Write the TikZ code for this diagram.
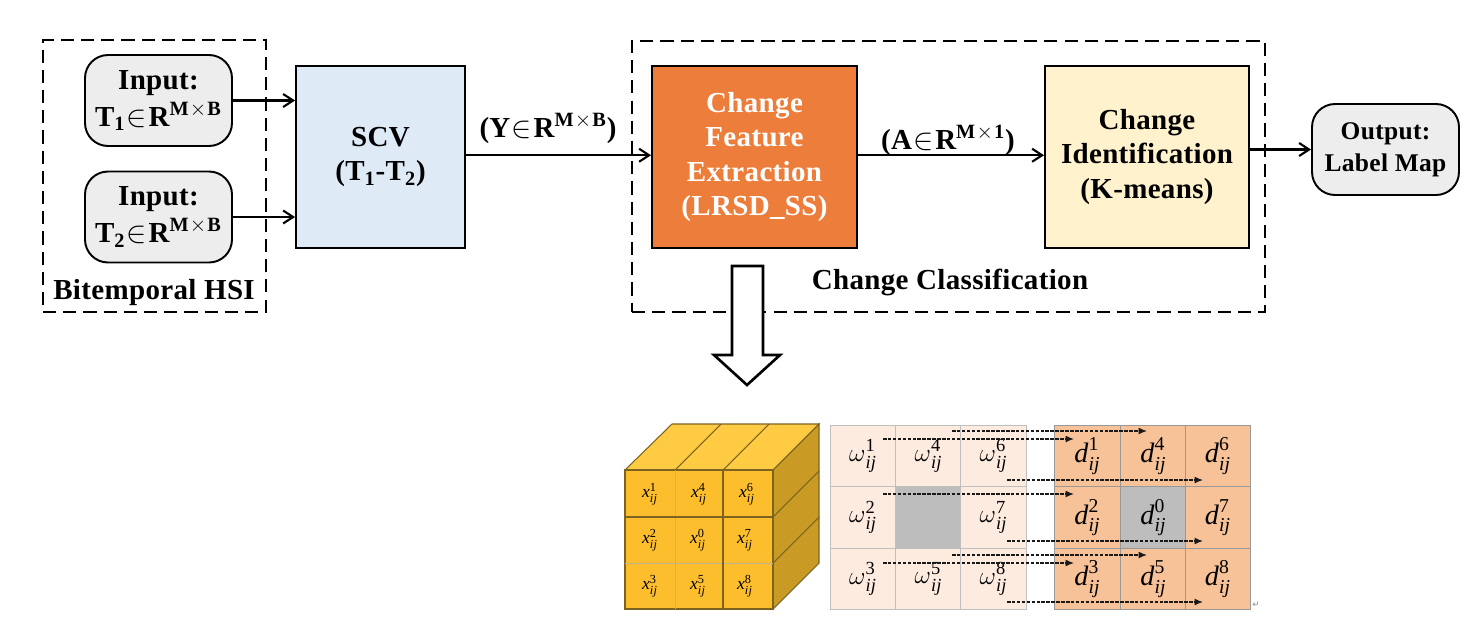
\documentclass[tikz,border=0pt]{standalone}
\usepackage{amsmath, amssymb}
\usepackage{fontspec}
\setmainfont[LetterSpace=1.2]{Liberation Serif}
\newfontfamily\arrowfont{DejaVu Sans}
\usepackage{tikz}
\usetikzlibrary{positioning,arrows.meta}
\definecolor{boxgray}{HTML}{EDEDED}
\definecolor{scvblue}{HTML}{DEEAF6}
\definecolor{cfeorange}{HTML}{ED7D3A}
\definecolor{cicream}{HTML}{FFF2CC}
\definecolor{cubefront}{HTML}{FCBE2C}
\definecolor{cubetop}{HTML}{FFCB42}
\definecolor{cubeside}{HTML}{C99B25}
\definecolor{cubeedge}{HTML}{7D6320}
\definecolor{omegacell}{HTML}{FDEBDF}
\definecolor{dcell}{HTML}{F8C298}
\definecolor{centercell}{HTML}{BDBDBD}
\newcommand{\cellvar}[2]{$\text{\itshape #1}^{\text{\upshape #2}}_{\text{\itshape ij}}$}
\newcommand{\setR}[1]{\kern0.05em$\in$\kern0.05em R\textsuperscript{M$\mkern1mu\times\mkern1mu$#1}}
\tikzset{
  flowarrow/.style={-{Straight Barb[length=2mm,width=2.6mm]}, line width=1.2pt},
  dasharrow/.style={-{Latex[length=1.7mm,width=1.4mm]}, line width=0.7pt, dash pattern=on 2pt off 0.8pt, draw=black!90},
  groupbox/.style={draw, line width=1.1pt, dash pattern=on 7.5pt off 4pt},
  inbox/.style={draw, rounded corners=0.46cm, line width=1.1pt, fill=boxgray, minimum width=2.94cm, minimum height=1.82cm, align=center, inner sep=0pt},
  stepbox/.style={draw, line width=1.1pt, minimum height=3.64cm, align=center, inner sep=0pt},
  boldlabel/.style={font=\fontsize{16.5}{19.5}\selectfont\bfseries, inner sep=0pt},
  inputlabel/.style={font=\fontsize{16.5}{21}\selectfont\bfseries},
  cubecell/.style={font=\fontsize{10}{12}\selectfont, inner sep=0pt},
  omegabox/.style={draw=black!25, fill=omegacell, minimum width=1.31cm, minimum height=1.23cm, inner sep=0pt, font=\fontsize{15}{17}\selectfont},
  dbox/.style={draw=black!40, fill=dcell, minimum width=1.31cm, minimum height=1.23cm, inner sep=0pt, font=\fontsize{16}{18}\selectfont}
}
\begin{document}
\begin{tikzpicture}[x=0.02cm, y=-0.02cm, >=Latex, every node/.style={boldlabel}]
      \useasboundingbox (0,0) rectangle (1478,640);
      % top row
      \node[groupbox, minimum width=4.46cm, minimum height=5.44cm] (bitemporal) at (154.5,176) {};
      \node[groupbox, minimum width=12.66cm, minimum height=5.42cm] (classbox) at (948.5,176.5) {};
      \node[inbox, inputlabel] (inputa) at (158.5,100.5) {Input:\\T\textsubscript{1}\setR{B}};
      \node[inbox, inputlabel] (inputb) at (158.5,217) {Input:\\T\textsubscript{2}\setR{B}};
      \node[stepbox, fill=scvblue, minimum width=3.38cm] (scv) at (380.5,157) {SCV\\(T\textsubscript{1}-T\textsubscript{2})};
      \node[stepbox, fill=cfeorange, text=white, minimum width=4.1cm] (cfe) at (754.5,157) {Change\\Feature\\Extraction\\(LRSD\_SS)};
      \node[stepbox, fill=cicream, minimum width=4.08cm] (ci) at (1147,157) {Change\\Identification\\(K-means)};
      \node[inbox, font=\fontsize{14.5}{18}\selectfont\bfseries] (output) at (1385.5,149.5) {Output:\\Label Map};
      \node (bitemporallabel) at (154,293) {Bitemporal HSI};
      \node (classlabel) at (950,282) {Change Classification};
      \node (ylabel) at (548,128) {(Y\setR{B})};
      \node (alabel) at (948,140) {(A\setR{1})};
      \draw[flowarrow] (inputa.east) -- (inputa.east -| scv.west);
      \draw[flowarrow] (inputb.east) -- (inputb.east -| scv.west);
      \draw[flowarrow] ([yshift=1pt]scv.east) -- ([yshift=1pt]cfe.west);
      \draw[flowarrow] ([yshift=1pt]cfe.east) -- ([yshift=1pt]ci.west);
      \draw[flowarrow] (ci.east |- output.west) -- (output.west);
      % hollow arrow
      \draw[line width=1.5pt, fill=white] (732,266) -- (763,266) -- (763,355) -- (780,355) -- (747,385) -- (714,355) -- (732,355) -- cycle;
      % cube
      \draw[cubeedge, line width=0.6pt, fill=cubetop] (625,470) -- (672,424) -- (819,424) -- (773,470) -- cycle;
      \draw[cubeedge, line width=0.6pt, fill=cubeside] (773,470) -- (819,424) -- (819,563) -- (773,609) -- cycle;
      \draw[cubeedge, line width=0.9pt, fill=cubefront] (625,470) rectangle (773,609);
      \draw[cubeedge!50, line width=0.5pt] (675,470) -- (675,609);
      \draw[cubeedge!50, line width=0.5pt] (625,563) -- (773,563);
      \draw[cubeedge, line width=0.9pt] (723,470) -- (723,609);
      \draw[cubeedge, line width=0.9pt] (625,517) -- (773,517);
      \draw[cubeedge, line width=0.6pt] (675,470) -- (721,424);
      \draw[cubeedge, line width=0.6pt] (723,470) -- (769,424);
      \draw[cubeedge, line width=0.6pt] (773,517) -- (819,471);
      \draw[cubeedge, line width=0.6pt] (773,563) -- (819,517);
      \node[cubecell] (x1) at (650,494) {\cellvar{x}{1}};
      \node[cubecell] (x4) at (699,494) {\cellvar{x}{4}};
      \node[cubecell] (x6) at (747,494) {\cellvar{x}{6}};
      \node[cubecell] (x2) at (650,540) {\cellvar{x}{2}};
      \node[cubecell] (x0) at (698,540) {\cellvar{x}{0}};
      \node[cubecell] (x7) at (745,540) {\cellvar{x}{7}};
      \node[cubecell] (x3) at (650,586) {\cellvar{x}{3}};
      \node[cubecell] (x5) at (698,586) {\cellvar{x}{5}};
      \node[cubecell] (x8) at (745,586) {\cellvar{x}{8}};
      % weight table
      \node[omegabox] (w1) at (863,456) {\cellvar{$\omega$}{1}};
      \node[omegabox] (w4) at (928.5,456) {\cellvar{$\omega$}{4}};
      \node[omegabox] (w6) at (993.5,456) {\cellvar{$\omega$}{6}};
      \node[omegabox] (w2) at (863,517.5) {\cellvar{$\omega$}{2}};
      \node[omegabox, fill=centercell] (w0) at (928.5,517.5) {};
      \node[omegabox] (w7) at (993.5,517.5) {\cellvar{$\omega$}{7}};
      \node[omegabox] (w3) at (863,579) {\cellvar{$\omega$}{3}};
      \node[omegabox] (w5) at (928.5,579) {\cellvar{$\omega$}{5}};
      \node[omegabox] (w8) at (993.5,579) {\cellvar{$\omega$}{8}};
      % distance table
      \node[dbox] (d1) at (1087.5,456) {\cellvar{d}{1}};
      \node[dbox] (d4) at (1153.5,456) {\cellvar{d}{4}};
      \node[dbox] (d6) at (1218,456) {\cellvar{d}{6}};
      \node[dbox] (d2) at (1087.5,517.5) {\cellvar{d}{2}};
      \node[dbox, fill=centercell] (d0) at (1153.5,517.5) {\cellvar{d}{0}};
      \node[dbox] (d7) at (1218,517.5) {\cellvar{d}{7}};
      \node[dbox] (d3) at (1087.5,579) {\cellvar{d}{3}};
      \node[dbox] (d5) at (1153.5,579) {\cellvar{d}{5}};
      \node[dbox] (d8) at (1218,579) {\cellvar{d}{8}};
      % dashed arrows
      \coordinate (sa) at (952,431); \coordinate (ea) at (1147,431);
      \coordinate (sb) at (883,439); \coordinate (eb) at (1074,439);
      \coordinate (sc) at (1007,480); \coordinate (ec) at (1203,480);
      \coordinate (sd) at (883,494); \coordinate (ed) at (1074,494);
      \coordinate (se) at (1007,541); \coordinate (ee) at (1203,541);
      \coordinate (sf) at (952,555); \coordinate (ef) at (1147,555);
      \coordinate (sg) at (883,563); \coordinate (eg) at (1074,563);
      \coordinate (sh) at (1007,602); \coordinate (eh) at (1203,602);
      \draw[dasharrow] (sa) -- (ea);
      \draw[dasharrow] (sb) -- (eb);
      \draw[dasharrow] (sc) -- (ec);
      \draw[dasharrow] (sd) -- (ed);
      \draw[dasharrow] (se) -- (ee);
      \draw[dasharrow] (sf) -- (ef);
      \draw[dasharrow] (sg) -- (eg);
      \draw[dasharrow] (sh) -- (eh);
      \node[font=\arrowfont\fontsize{5}{6}\selectfont, text=black!45] (returnmark) at (1256,605) {↵};
    \end{tikzpicture}
\end{document}
